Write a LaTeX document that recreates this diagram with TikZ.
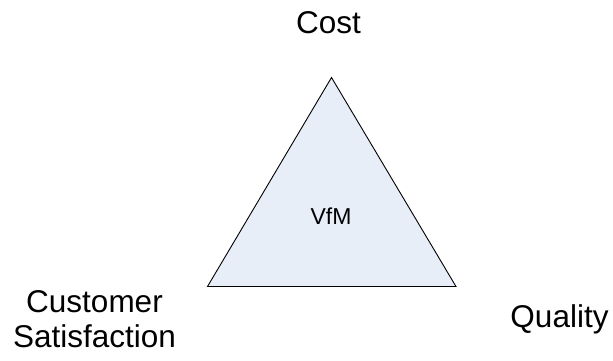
\documentclass[tikz,border=0pt]{standalone}
\usepackage{fontspec}
\setmainfont{Liberation Sans}
\usetikzlibrary{positioning}
\definecolor{vfmfill}{RGB}{232,238,248}

\begin{document}
\begin{tikzpicture}[
    x=1pt, y=-1pt,
    label/.style={font=\fontsize{31.5}{35}\selectfont, align=center, anchor=base, inner sep=0pt},
    core/.style={font=\fontsize{23}{26}\selectfont, anchor=base, inner sep=0pt},
    tri/.style={draw=black, fill=vfmfill, line width=0.9pt, line join=miter},
]
\useasboundingbox (0,0) rectangle (613,360);

% triangle corners
\coordinate (top) at (331.5,77.5);
\coordinate (left) at (207.5,286.5);
\coordinate (right) at (456,286.5);

% triangle
\draw[tri] (top) -- (left) -- (right) -- cycle;

% centre text
\node[core] (vfm) at (331,224) {VfM};

% corner labels
\node[label] (cost) at (328.5,33) {Cost};
\node[label] (cust) at (94.5,347) {Customer\\Satisfaction};
\node[label] (quality) at (559.5,327) {Quality};

\end{tikzpicture}
\end{document}
